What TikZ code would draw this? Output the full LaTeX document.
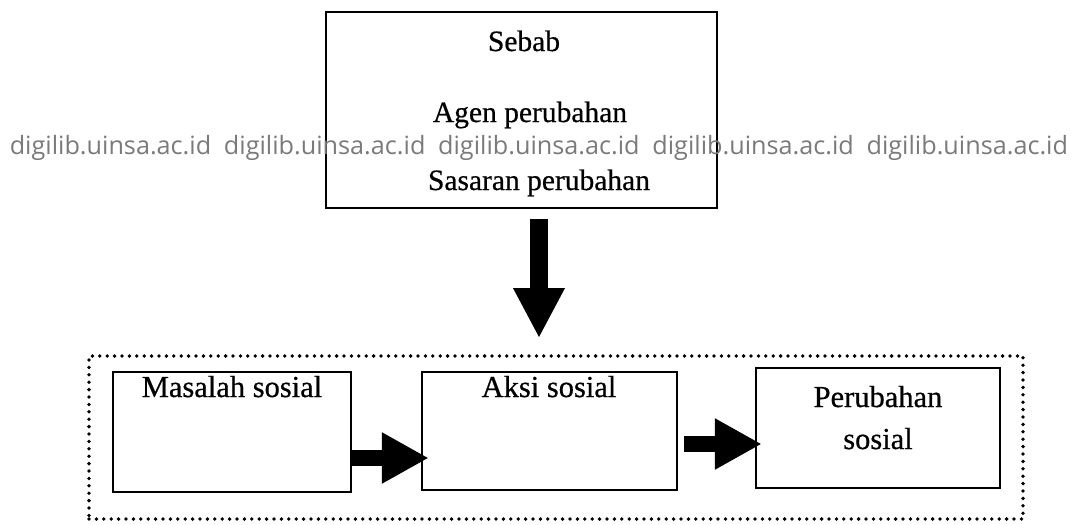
\documentclass[tikz,border=0pt]{standalone}
\usepackage{fontspec}
\setmainfont{Liberation Serif}[BoldFont=Liberation Serif,BoldFeatures={FakeBold=0.6}]
\newfontfamily\wmfont{Open Sans}
\usetikzlibrary{arrows.meta,calc}
\begin{document}
\begin{tikzpicture}[x=1pt,y=-1pt,
  boxst/.style={draw,line width=2.5pt,rectangle,inner sep=0pt,anchor=center},
  lbltop/.style={anchor=base,inner sep=0pt,font=\bfseries\fontsize{29.5}{30}\selectfont},
  lblbot/.style={anchor=base,inner sep=0pt,font=\bfseries\fontsize{30.5}{31}\selectfont},
  wm/.style={anchor=base,inner sep=0pt,text=black!52,font=\wmfont\fontsize{25.2}{26}\selectfont},
  fatdown/.style={line width=18pt,-{Triangle[width=48pt,length=50pt]}},
  fatright/.style={line width=16pt,-{Triangle[width=48pt,length=47pt]}}
]
\useasboundingbox (0,0) rectangle (1077,525);
% top box
\node[boxst,minimum width=391pt,minimum height=196pt] (top) at (521.5,110) {};
\node[lbltop] (sebab) at (524,51) {Sebab};
\node[lbltop] (agen) at (530,122) {Agen perubahan};
\node[lbltop] (sasaran) at (539,190) {Sasaran perubahan};
% dotted group
\node[draw,line width=3.8pt,line cap=round,dash pattern=on 0pt off 7.4pt,rectangle,inner sep=0pt,
  minimum width=934pt,minimum height=163pt] (group) at (556,437.5) {};
% lower boxes
\node[boxst,minimum width=238pt,minimum height=120pt] (b1) at (232,432) {};
\node[boxst,minimum width=255pt,minimum height=118pt] (b2) at (549.5,431) {};
\node[boxst,minimum width=244pt,minimum height=120pt] (b3) at (878,428) {};
\node[lblbot] (l1) at (232,397) {Masalah sosial};
\node[lblbot] (l2) at (549,397) {Aksi sosial};
\node[lblbot] (l3a) at (878,407) {Perubahan};
\node[lblbot] (l3b) at (878,449) {sosial};
% arrows
\coordinate (dtop) at ($(top.south)+(17.5,10)$);
\coordinate (dend) at ($(group.north)+(-17,-16)$);
\draw[fatdown] (dtop) -- (dend);
\draw[fatright] ($(b1.east)+(0,26)$) -- ($(b2.west)+(8,27)$);
\draw[fatright] ($(b2.east)+(6,13)$) -- ($(b3.west)+(7,16)$);
% watermark
\node[wm] (w1) at (110.5,154) {digilib.uinsa.ac.id};
\node[wm] (w2) at (324.7,154) {digilib.uinsa.ac.id};
\node[wm] (w3) at (538.9,154) {digilib.uinsa.ac.id};
\node[wm] (w4) at (753.1,154) {digilib.uinsa.ac.id};
\node[wm] (w5) at (967.3,154) {digilib.uinsa.ac.id};
\end{tikzpicture}
\end{document}
